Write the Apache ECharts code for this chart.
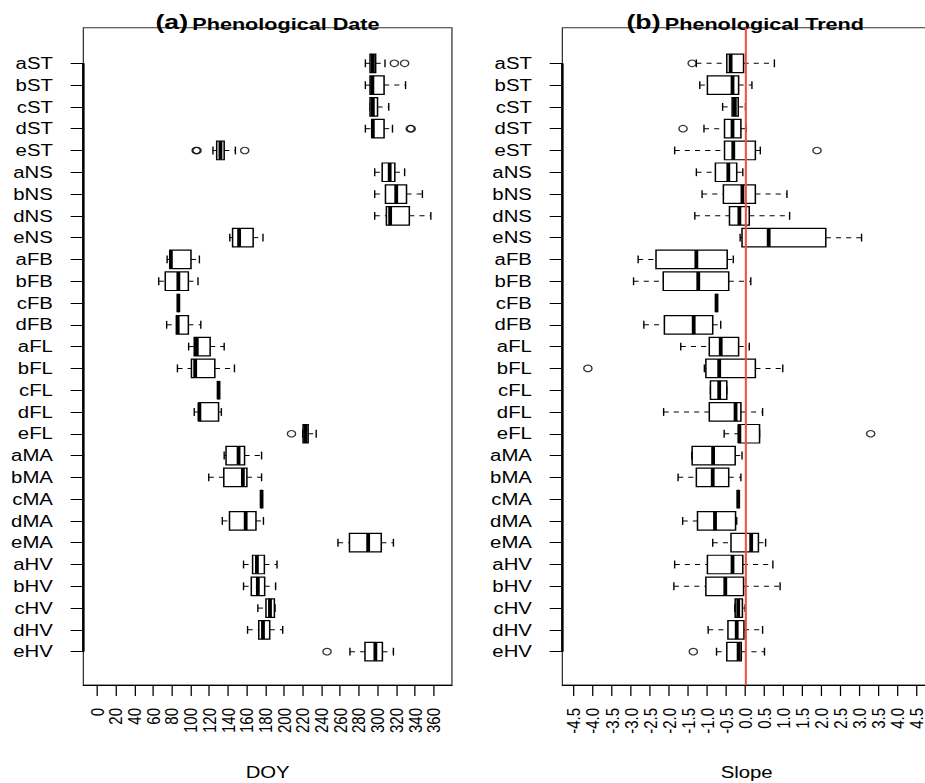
<!DOCTYPE html>
<html lang="en">
<head>
<meta charset="UTF-8">
<title>phenology boxplot</title>
<script src="https://cdn.jsdelivr.net/npm/echarts@6/dist/echarts.min.js"></script>
<style>
    html, body { margin: 0; padding: 0; background: #fff; overflow: hidden; }
    /* the original figure is stretched sideways, so the chart is too */
    #box { width: 728px; height: 783px; transform: scaleX(1.2706); transform-origin: 0 0; }
</style>
</head>
<body>
<div id="box"></div>
<script>
    var cats = ['aST','bST','cST','dST','eST','aNS','bNS','dNS','eNS','aFB','bFB','cFB','dFB',
        'aFL','bFL','cFL','dFL','eFL','aMA','bMA','cMA','dMA','eMA','aHV','bHV','cHV','dHV','eHV'];

    // [lower whisker, Q1, median, Q3, upper whisker] per category
    var doyStats = [
        [287, 292, 295, 298, 308],
        [287, 292, 294.5, 307, 330],
        [292, 292, 295, 300, 312],
        [287, 294, 295, 307, 316],
        [124, 128, 132, 136, 148],
        [297, 305, 313, 318.5, 329],
        [297, 308.5, 320, 331, 348],
        [297, 309.5, 313.5, 334, 357],
        [142, 145, 152, 167, 177.5],
        [75, 78, 79, 100.5, 109.5],
        [66, 73, 87, 97.7, 108],
        [87, 87, 87, 87, 87],
        [74.5, 85, 86.3, 97.7, 111],
        [98, 104, 106.7, 121, 136],
        [86, 101, 105, 126, 147],
        [130, 130, 130, 130, 130],
        [104, 109, 109.5, 130, 133],
        [220, 220.4, 223, 225.8, 234.4],
        [136, 138, 151.4, 157.8, 176],
        [119.5, 135.6, 156, 160.3, 176],
        [176, 176, 176, 176, 176],
        [134, 141.7, 159, 170, 178],
        [257.7, 270, 290, 304, 317],
        [156.7, 166.4, 171, 179, 192.5],
        [156.7, 165, 172, 179.3, 191],
        [172, 180.7, 185, 189.7, 190.4],
        [161, 173, 177.5, 184.7, 198.6],
        [270.5, 286.6, 297.7, 305.2, 317]
    ];
    // [category name, value]
    var doyOutliers = [
        ['aST', 318], ['aST', 329], ['dST', 335], ['dST', 336],
        ['eST', 106], ['eST', 107], ['eST', 158], ['eFL', 208], ['eHV', 246]
    ];

    var slopeStats = [
        [-1.28, -0.48, -0.38, -0.04, 0.77],
        [-1.19, -0.99, -0.33, -0.17, 0.18],
        [-0.59, -0.34, -0.27, -0.18, 0.01],
        [-1.08, -0.54, -0.33, -0.11, 0.03],
        [-1.85, -0.54, -0.31, 0.27, 0.40],
        [-1.28, -0.78, -0.44, -0.22, -0.06],
        [-1.13, -0.57, -0.07, 0.27, 1.10],
        [-1.32, -0.41, -0.15, 0.11, 1.17],
        [-0.13, -0.08, 0.62, 2.12, 3.06],
        [-2.81, -2.34, -1.28, -0.47, -0.31],
        [-2.93, -2.15, -1.23, -0.43, 0.15],
        [-0.75, -0.75, -0.75, -0.75, -0.75],
        [-2.66, -2.12, -1.35, -0.85, -0.64],
        [-1.69, -0.94, -0.64, -0.17, 0.11],
        [-1.07, -1.03, -0.68, 0.27, 0.99],
        [-0.91, -0.91, -0.68, -0.48, -0.48],
        [-2.14, -0.94, -0.25, -0.11, 0.46],
        [-0.55, -0.17, -0.15, 0.38, 0.38],
        [-1.40, -1.39, -0.84, -0.26, -0.08],
        [-1.76, -1.28, -0.85, -0.43, -0.11],
        [-0.18, -0.18, -0.18, -0.18, -0.18],
        [-1.64, -1.25, -0.79, -0.25, -0.22],
        [-0.85, -0.37, 0.16, 0.35, 0.54],
        [-1.85, -0.99, -0.33, -0.06, 0.73],
        [-1.87, -1.03, -0.52, -0.04, 0.92],
        [-0.27, -0.26, -0.18, -0.07, 0.00],
        [-0.97, -0.45, -0.22, -0.03, 0.46],
        [-0.75, -0.48, -0.17, -0.10, 0.51]
    ];
    var slopeOutliers = [
        ['aST', -1.39], ['dST', -1.63], ['eST', 1.89], ['bFL', -4.13], ['eFL', 3.30], ['eHV', -1.36]
    ];

    var doyTicks = [0, 20, 40, 60, 80, 100, 120, 140, 160, 180, 200, 220, 240, 260, 280, 300, 320, 340, 360];
    var slopeTicks = [-4.5, -4.0, -3.5, -3.0, -2.5, -2.0, -1.5, -1.0, -0.5, 0.0, 0.5, 1.0, 1.5, 2.0, 2.5, 3.0, 3.5, 4.0, 4.5];
    var slopeTickLabels = ['-4.5','-4.0','-3.5','-3.0','-2.5','-2.0','-1.5','-1.0','-0.5','0.0','0.5','1.0','1.5','2.0','2.5','3.0','3.5','4.0','4.5'];

    var FONT = 'Liberation Sans, Arial, Helvetica, sans-serif';
    var catPos = cats.map(function (c, i) { return i + 1; });
    // DOY labels are packed tightly; split them over two axes so none gets hidden
    var doyTicksOdd = doyTicks.filter(function (v, i) { return i % 2 === 1; });
    var doyTicksEven = doyTicks.filter(function (v, i) { return i % 2 === 0; });

    var myChart = echarts.init(document.getElementById('box'), null, {renderer: 'svg'});

    function drawBox(params, api) {
        var pos = api.value(0);
        var pL = api.coord([api.value(1), pos]);
        var p1 = api.coord([api.value(2), pos]);
        var pM = api.coord([api.value(3), pos]);
        var p3 = api.coord([api.value(4), pos]);
        var pU = api.coord([api.value(5), pos]);
        var half = api.size([0, 0.85])[1] / 2;
        var cap = api.size([0, 0.36])[1] / 2;
        var y = p1[1];
        var dash = {stroke: '#000', lineWidth: 1, lineDash: [4, 4]};
        var solid = {stroke: '#000', lineWidth: 1.1};
        return {
            type: 'group',
            children: [
                {type: 'line', shape: {x1: pL[0], y1: y, x2: p1[0], y2: y}, style: dash},
                {type: 'line', shape: {x1: p3[0], y1: y, x2: pU[0], y2: y}, style: dash},
                {type: 'line', shape: {x1: pL[0], y1: y - cap, x2: pL[0], y2: y + cap}, style: solid},
                {type: 'line', shape: {x1: pU[0], y1: y - cap, x2: pU[0], y2: y + cap}, style: solid},
                {type: 'rect', shape: {x: p1[0], y: y - half, width: p3[0] - p1[0], height: half * 2},
                    style: {fill: '#fff', stroke: '#000', lineWidth: 1.2}},
                {type: 'line', shape: {x1: pM[0], y1: y - half, x2: pM[0], y2: y + half},
                    style: {stroke: '#000', lineWidth: 3}}
            ]
        };
    }

    function boxData(stats) {
        return stats.map(function (s, i) { return [i + 1].concat(s); });
    }
    function outlierData(list) {
        return list.map(function (o) { return [o[1], cats.indexOf(o[0]) + 1]; });
    }

    function yAxisFor(g) {
        return {
            gridIndex: g, type: 'value', inverse: true, min: -0.634, max: 29.53,
            axisLine: {show: false, onZero: false},
            splitLine: {show: false},
            axisTick: {show: true, length: 10, customValues: catPos, lineStyle: {color: '#000', width: 1}},
            axisLabel: {
                customValues: catPos, margin: 24, fontSize: 16, color: '#000', fontFamily: FONT,
                showMinLabel: true, showMaxLabel: true,
                formatter: function (v) { return cats[Math.round(v) - 1]; }
            }
        };
    }

    function xAxisFor(g, min, max, ticks, name, fmt) {
        return {
            gridIndex: g, type: 'value', min: min, max: max, position: 'bottom',
            axisLine: {show: !!name, onZero: false, lineStyle: {color: '#000', width: 1}},
            splitLine: {show: false},
            axisTick: {show: true, length: 11, customValues: ticks, lineStyle: {color: '#000', width: 1}},
            axisLabel: {customValues: ticks, rotate: 90, margin: 23, fontSize: 15,
                color: '#000', fontFamily: FONT, formatter: fmt, hideOverlap: false,
                showMinLabel: true, showMaxLabel: true},
            name: name, nameLocation: 'middle', nameGap: 79,
            nameTextStyle: {fontSize: 16, color: '#000', fontFamily: FONT}
        };
    }

    function axisSegment(g, xmin) {
        // thick left axis line from first to last category, like R's axis()
        return {
            type: 'line', xAxisIndex: g, yAxisIndex: g, data: [[xmin, 1], [xmin, cats.length]],
            symbol: 'none', clip: false, silent: true, z: 5,
            lineStyle: {color: '#000', width: 2}
        };
    }

    var outlierStyle = {color: 'rgba(0,0,0,0)', borderColor: '#000', borderWidth: 1.1};
    var titleRich = {
        p: {fontSize: 21, fontWeight: 'bold', fontFamily: FONT, verticalAlign: 'bottom'},
        t: {fontSize: 17, fontWeight: 'bold', fontFamily: FONT, verticalAlign: 'bottom'}
    };
    var doyFmt = function (v) { return String(v); };

    var option = {
        animation: false,
        backgroundColor: '#fff',
        textStyle: {fontFamily: FONT},
        graphic: [
            {type: 'text', x: 210.5, y: 11, style: {
                text: '{p|(a)} {t|Phenological Date}', align: 'center', verticalAlign: 'top', fill: '#000',
                rich: titleRich}},
            {type: 'text', x: 586.5, y: 11, style: {
                text: '{p|(b)} {t|Phenological Trend}', align: 'center', verticalAlign: 'top', fill: '#000',
                rich: titleRich}}
        ],
        grid: [
            {left: 65.6, top: 27.7, width: 290.1, height: 657.3, show: true, borderColor: '#333', borderWidth: 1,
                backgroundColor: 'rgba(0,0,0,0)', outerBoundsMode: 'none'},
            {left: 442.6, top: 27.7, width: 290, height: 657.3, show: true, borderColor: '#333', borderWidth: 1,
                backgroundColor: 'rgba(0,0,0,0)', outerBoundsMode: 'none'}
        ],
        xAxis: [
            xAxisFor(0, -14.6, 379.6, doyTicksOdd, 'DOY', doyFmt),
            xAxisFor(1, -4.8, 4.88, slopeTicks, 'Slope', function (v) {
                return slopeTickLabels[slopeTicks.indexOf(Math.round(v * 10) / 10)];
            }),
            xAxisFor(0, -14.6, 379.6, doyTicksEven, '', doyFmt)
        ],
        yAxis: [yAxisFor(0), yAxisFor(1)],
        series: [
            {type: 'custom', xAxisIndex: 0, yAxisIndex: 0, renderItem: drawBox, data: boxData(doyStats),
                encode: {x: [1, 2, 3, 4, 5], y: 0}, z: 2},
            {type: 'custom', xAxisIndex: 1, yAxisIndex: 1, renderItem: drawBox, data: boxData(slopeStats),
                encode: {x: [1, 2, 3, 4, 5], y: 0}, z: 2},
            {type: 'scatter', xAxisIndex: 0, yAxisIndex: 0, data: outlierData(doyOutliers),
                symbol: 'circle', symbolSize: 6.5, itemStyle: outlierStyle, z: 3},
            {type: 'scatter', xAxisIndex: 1, yAxisIndex: 1, data: outlierData(slopeOutliers),
                symbol: 'circle', symbolSize: 6.5, itemStyle: outlierStyle, z: 3},
            axisSegment(0, -14.6),
            axisSegment(1, -4.8),
            {type: 'line', xAxisIndex: 1, yAxisIndex: 1, data: [], z: 10,
                markLine: {silent: true, symbol: 'none', label: {show: false},
                    lineStyle: {color: '#f24e3d', width: 1.6, type: 'solid'},
                    data: [{xAxis: 0}]}}
        ]
    };

    myChart.setOption(option);
</script>
</body>
</html>
